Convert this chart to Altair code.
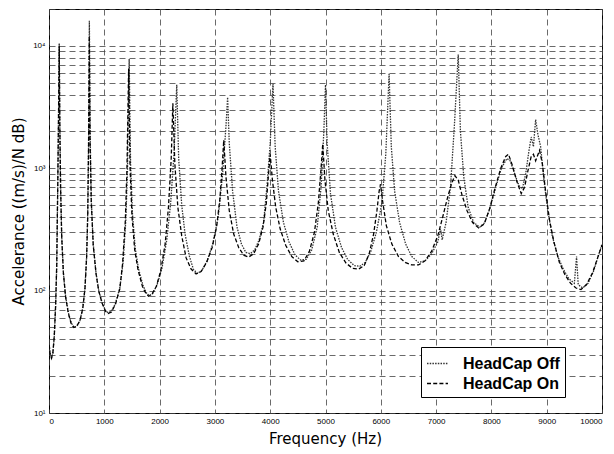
import altair as alt
import pandas as pd

# HeadCap Off (dotted)
off_freq = [0, 20, 45, 70, 95, 120, 140, 158, 172, 185, 196, 210, 230, 260, 300, 350, 400, 450, 500, 560,
            610, 650, 680, 700, 715, 730, 745, 765, 800, 850, 900, 960, 1020, 1070, 1130, 1200, 1280, 1340,
            1390, 1420, 1450, 1475, 1510, 1560, 1620, 1700, 1760, 1810, 1870, 1950, 2040, 2130, 2200, 2260,
            2310, 2345, 2400, 2460, 2540, 2610, 2680, 2760, 2860, 2960, 3060, 3140, 3200, 3230, 3260, 3320,
            3400, 3480, 3560, 3640, 3720, 3800, 3880, 3940, 4000, 4050, 4090, 4150, 4240, 4340, 4450, 4550,
            4650, 4750, 4850, 4920, 4970, 5000, 5030, 5090, 5180, 5290, 5400, 5520, 5620, 5720, 5820, 5920,
            6020, 6090, 6150, 6190, 6250, 6340, 6450, 6560, 6680, 6800, 6920, 7030, 7080, 7110, 7180, 7260,
            7330, 7400, 7440, 7500, 7580, 7680, 7790, 7880, 7980, 8080, 8180, 8280, 8340, 8420, 8500, 8560,
            8620, 8680, 8720, 8760, 8800, 8840, 8890, 8950, 9020, 9100, 9200, 9300, 9400, 9500, 9540, 9570,
            9650, 9750, 9850, 9930, 10000]
off_val = [38, 31, 28, 31, 42, 75, 160, 700, 2500, 10500, 2200, 700, 280, 140, 90, 66, 55, 50, 51, 57,
           72, 105, 190, 420, 1500, 16000, 1800, 550, 240, 140, 100, 80, 69, 66, 68, 78, 105, 170,
           380, 1000, 7800, 1100, 420, 220, 150, 110, 96, 91, 94, 110, 150, 260, 520, 1300,
           4800, 1200, 500, 290, 190, 150, 138, 145, 175, 240, 400, 900, 2200, 3800, 1600, 650,
           330, 240, 205, 200, 215, 260, 360, 700, 1600, 4900, 1500, 650, 360, 250, 195, 178,
           180, 215, 330, 700, 2000, 4800, 1600, 620, 330, 225, 180, 160, 158, 170, 210, 300,
           520, 1300, 5900, 1500, 650, 360, 240, 190, 170, 175, 200, 250, 320, 260, 360, 700,
           2200, 8500, 2000, 850, 480, 360, 330, 360, 480, 700, 1000, 1200, 1150, 900, 720, 680,
           900, 1400, 1800, 1500, 2500, 1900, 1500, 800, 450, 280, 190, 150, 125, 115, 190, 112,
           105, 115, 145, 190, 240]

# HeadCap On (dashed)
on_freq = [0, 20, 45, 70, 95, 120, 140, 158, 172, 185, 196, 210, 230, 260, 300, 350, 400, 450, 500, 560,
           610, 650, 680, 700, 715, 728, 742, 765, 800, 850, 900, 960, 1020, 1070, 1130, 1200, 1280, 1330,
           1380, 1410, 1440, 1465, 1500, 1550, 1610, 1690, 1750, 1800, 1860, 1940, 2020, 2100, 2160, 2210,
           2240, 2275, 2330, 2400, 2480, 2570, 2660, 2750, 2850, 2950, 3030, 3090, 3130, 3160, 3200, 3260,
           3340, 3430, 3520, 3610, 3700, 3790, 3870, 3930, 3970, 4000, 4040, 4100, 4180, 4280, 4390, 4500,
           4610, 4710, 4800, 4870, 4920, 4950, 4990, 5050, 5140, 5250, 5370, 5490, 5600, 5700, 5790, 5870,
           5930, 5970, 5995, 6030, 6100, 6200, 6320, 6440, 6560, 6680, 6800, 6920, 7030, 7120, 7200, 7280,
           7340, 7400, 7470, 7560, 7660, 7770, 7870, 7970, 8070, 8170, 8260, 8310, 8380, 8460, 8540, 8600,
           8660, 8720, 8760, 8800, 8870, 8920, 8980, 9050, 9130, 9230, 9330, 9430, 9530, 9620, 9720, 9830,
           9920, 10000]
on_val = [36, 30, 28, 31, 42, 76, 165, 720, 2600, 10000, 2100, 680, 275, 140, 89, 65, 54, 50, 51, 57,
          71, 103, 185, 400, 1400, 12000, 1700, 520, 235, 138, 99, 79, 68, 65, 67, 77, 103, 165,
          370, 1000, 6500, 1050, 410, 215, 148, 108, 95, 90, 93, 108, 145, 240, 480, 1200,
          3400, 1100, 480, 280, 185, 150, 137, 143, 170, 225, 330, 560, 1000, 1700, 850, 450,
          290, 225, 195, 188, 200, 240, 330, 520, 900, 1300, 800, 480, 320, 235, 190, 172,
          175, 210, 300, 520, 1000, 1580, 800, 450, 290, 205, 168, 152, 150, 160, 200, 290,
          450, 650, 740, 550, 340, 240, 190, 170, 162, 162, 175, 210, 280, 400, 560, 750,
          870, 800, 600, 450, 360, 325, 350, 470, 700, 1000, 1250, 1300, 1050, 780, 620, 700,
          950, 1250, 1300, 1150, 1400, 1100, 650, 380, 250, 170, 135, 115, 105, 102, 112, 140,
          185, 235]

x_ticks = [0, 1000, 2000, 3000, 4000, 5000, 6000, 7000, 8000, 9000, 10000]
y_grid = [10, 20, 30, 40, 50, 60, 70, 80, 90,
          100, 200, 300, 400, 500, 600, 700, 800, 900,
          1000, 2000, 3000, 4000, 5000, 6000, 7000, 8000, 9000,
          10000, 20000]

series_names = ["HeadCap Off", "HeadCap On"]

df = pd.concat([
    pd.DataFrame({"f": off_freq, "v": off_val, "s": series_names[0], "o": 2}),
    pd.DataFrame({"f": on_freq, "v": on_val, "s": series_names[1], "o": 1}),
])

label_expr = ("datum.value == 10 ? '10¹' : datum.value == 100 ? '10²' : "
              "datum.value == 1000 ? '10³' : datum.value == 10000 ? '10⁴' : ''")

chart = alt.Chart(df).mark_line(clip=True, strokeWidth=1.3).encode(
    x=alt.X("f:Q", scale=alt.Scale(domain=[0, 10000], nice=False),
            axis=alt.Axis(values=x_ticks, format="d", title="Frequency (Hz)",
                          titleX=276, titleY=25, titleBaseline="middle")),
    y=alt.Y("v:Q", scale=alt.Scale(type="log", domain=[10, 20000], nice=False),
            axis=alt.Axis(values=y_grid, labelExpr=label_expr,
                          title="Accelerance ((m/s)/N dB)",
                          titleX=-31, titleY=202, titleBaseline="middle", titleAlign="center")),
    strokeDash=alt.StrokeDash("s:N", scale=alt.Scale(domain=series_names, range=[[1.5, 1.2], [4, 2.2]]),
                              legend=alt.Legend(title=None)),
    color=alt.Color("s:N", scale=alt.Scale(domain=series_names, range=["#333333", "#000000"]),
                    legend=alt.Legend(title=None)),
    detail="s:N",
    order="o:Q",
).properties(
    width=553, height=404,
    autosize=alt.AutoSizeParams(type="none"),
    padding={"left": 41, "top": 1, "right": 4, "bottom": 44},
).configure_view(
    stroke="black", strokeWidth=1
).configure_axis(
    domain=False, ticks=False,
    grid=True, gridDash=[6, 4], gridColor="#444444", gridWidth=0.8,
    labelFont="Liberation Sans", labelFontSize=8, labelColor="black", labelPadding=4,
    titleFont="DejaVu Sans", titleFontSize=15, titleFontWeight="normal", titleColor="black",
).configure_legend(
    orient="none", legendX=372, legendY=338,
    fillColor="white", strokeColor="black", padding=5,
    symbolType="stroke", symbolSize=440, symbolStrokeWidth=1.4,
    labelFont="Liberation Sans", labelFontSize=16, labelFontWeight="bold", labelColor="black",
    labelOffset=14, rowPadding=0,
)

chart.save("out.html", embed_options={"renderer": "svg", "actions": False})
